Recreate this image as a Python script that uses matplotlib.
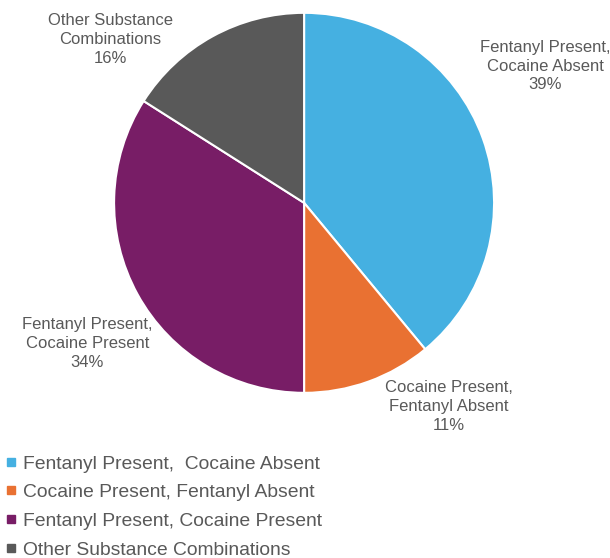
import matplotlib.pyplot as plt
from matplotlib.lines import Line2D

plt.rcParams['font.family'] = ['Liberation Sans', 'DejaVu Sans']

categories = ["Fentanyl Present,  Cocaine Absent",
              "Cocaine Present, Fentanyl Absent",
              "Fentanyl Present, Cocaine Present",
              "Other Substance Combinations"]
slice_labels = ["Fentanyl Present,\nCocaine Absent",
                "Cocaine Present,\nFentanyl Absent",
                "Fentanyl Present,\nCocaine Present",
                "Other Substance\nCombinations"]
values = [39, 11, 34, 16]
colors = ["#45B0E1", "#E97132", "#781D66", "#595959"]
label_pos = [(1.27, 0.72), (0.76, -1.07), (-1.14, -0.74), (-1.02, 0.86)]
text_color = "#595959"

fig = plt.figure(figsize=(6.1, 5.58), dpi=100)
ax = fig.add_axes([0.187, 0.296, 0.623, 0.681])
ax.pie(values, colors=colors, startangle=90, counterclock=False,
       wedgeprops=dict(edgecolor="white", linewidth=1.5))
ax.set_xlim(-1, 1)
ax.set_ylim(-1, 1)
ax.set_aspect("equal")
ax.axis("off")

for lab, v, (x, y) in zip(slice_labels, values, label_pos):
    ax.text(x, y, f"{lab}\n{v}%", ha="center", va="center", fontsize=12,
            color=text_color, linespacing=1.33, clip_on=False)

handles = [Line2D([], [], marker="s", linestyle="none", markersize=6,
                  markerfacecolor=c, markeredgecolor=c) for c in colors]
fig.legend(handles, categories, loc="upper left", bbox_to_anchor=(0.005, 0.188),
           frameon=False, fontsize=13.9, labelcolor=text_color,
           handlelength=0.6, handletextpad=0.35, labelspacing=0.58,
           borderaxespad=0, borderpad=0.1)

fig.savefig("out.png", dpi=100)
